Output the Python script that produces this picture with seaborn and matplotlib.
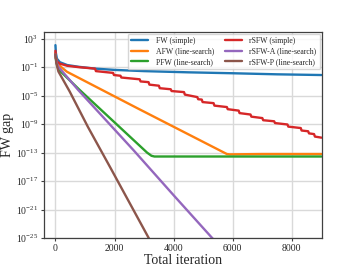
import numpy as np
import pandas as pd
import seaborn as sns
import matplotlib.pyplot as plt
from matplotlib.ticker import FixedLocator, NullLocator

# log10(FW gap) at selected iterations
fw_it = [0, 15, 50, 150, 400, 800, 1350, 2000, 3000, 4500, 6000, 7500, 9000]
fw_log = [2.1, 1.0, 0.2, -0.3, -0.7, -0.95, -1.2, -1.38, -1.55, -1.72, -1.85, -2.0, -2.1]

afw_it = [0, 20, 80, 200, 390, 2770, 5800, 5900, 7000, 8000, 9000]
afw_log = [1.0, 0.2, -0.5, -1.0, -1.64, -6.76, -13.2, -13.25, -13.2, -13.2, -13.2]

pfw_it = [0, 30, 100, 820, 1520, 3100, 3250, 3350, 5000, 7000, 9000]
pfw_log = [0.8, -0.3, -1.3, -4.2, -6.9, -13.0, -13.45, -13.55, -13.55, -13.55, -13.55]

rsfw_it = [0, 15, 50, 150, 400, 800, 1340, 1370, 1950, 1980, 2200, 2230, 2850, 2880,
           3150, 3180, 3500, 3530, 3900, 3930, 4350, 4380, 4800, 4830, 4950, 4980,
           5350, 5380, 5800, 5830, 6200, 6230, 6600, 6630, 7000, 7030, 7400, 7430,
           7850, 7880, 8300, 8330, 8550, 8580, 8750, 8780, 9000]
rsfw_log = [1.3, 0.3, -0.2, -0.5, -0.8, -1.0, -1.2, -1.55, -1.8, -2.1, -2.2, -2.45, -2.7, -3.0,
            -3.1, -3.45, -3.6, -3.95, -4.1, -4.35, -4.5, -4.85, -5.2, -5.5, -5.55, -5.9,
            -6.05, -6.4, -6.6, -6.9, -7.1, -7.45, -7.65, -7.95, -8.15, -8.45, -8.6, -8.85,
            -9.05, -9.35, -9.55, -9.9, -10.0, -10.3, -10.4, -10.75, -10.9]

rsfwa_it = [0, 40, 100, 770, 2650, 4000, 5400]
rsfwa_log = [0.8, -0.4, -0.95, -4.2, -12.7, -19.0, -25.45]

rsfwp_it = [0, 30, 100, 480, 1100, 1870, 3300]
rsfwp_log = [0.8, -0.4, -1.6, -4.4, -9.4, -15.2, -26.1]

methods = ["FW (simple)", "AFW (line-search)", "PFW (line-search)",
           "rSFW (simple)", "rSFW-A (line-search)", "rSFW-P (line-search)"]
colors = ["#1f77b4", "#ff7f0e", "#2ca02c", "#d62728", "#9467bd", "#8c564b"]
series = [(fw_it, fw_log), (afw_it, afw_log), (pfw_it, pfw_log),
          (rsfw_it, rsfw_log), (rsfwa_it, rsfwa_log), (rsfwp_it, rsfwp_log)]

frames = []
for name, (its, logs) in zip(methods, series):
    frames.append(pd.DataFrame({"iteration": its,
                                "gap": 10.0 ** np.array(logs),
                                "method": name}))
df = pd.concat(frames, ignore_index=True)

sns.set_theme(style="whitegrid", rc={
    "axes.edgecolor": ".25",
    "grid.color": ".85",
    "xtick.bottom": True,
    "ytick.left": True,
})
plt.rcParams["font.family"] = ["Liberation Serif", "DejaVu Serif"]
plt.rcParams["mathtext.fontset"] = "stix"

fig, ax = plt.subplots(figsize=(3.57, 2.68), dpi=100)
fig.subplots_adjust(left=0.123, right=0.902, top=0.882, bottom=0.112)

sns.lineplot(data=df, x="iteration", y="gap", hue="method", hue_order=methods,
             palette=colors, estimator=None, sort=False, lw=1.7, ax=ax)

ax.set_yscale("log")
ax.set_xlim(-390, 9020)
ax.set_ylim(1e-25, 1e4)
ax.yaxis.set_major_locator(FixedLocator([10.0 ** k for k in range(3, -26, -4)]))
ax.yaxis.set_minor_locator(NullLocator())
ax.set_xticks([0, 2000, 4000, 6000, 8000])
ax.tick_params(axis="both", labelsize=7, length=2.5, width=0.8, pad=1.5, color=".25")

ax.set_xlabel("Total iteration", fontsize=10, labelpad=1)
ax.set_ylabel("FW gap", fontsize=10, labelpad=1.5)

ax.legend(loc="upper right", ncol=2, fontsize=5.6, frameon=True,
          handlelength=2.2, columnspacing=1.3, labelspacing=0.3,
          borderaxespad=0.25, borderpad=0.45, handletextpad=1.0)

for s in ax.spines.values():
    s.set_linewidth(0.9)

fig.savefig("out.png", dpi=100)
